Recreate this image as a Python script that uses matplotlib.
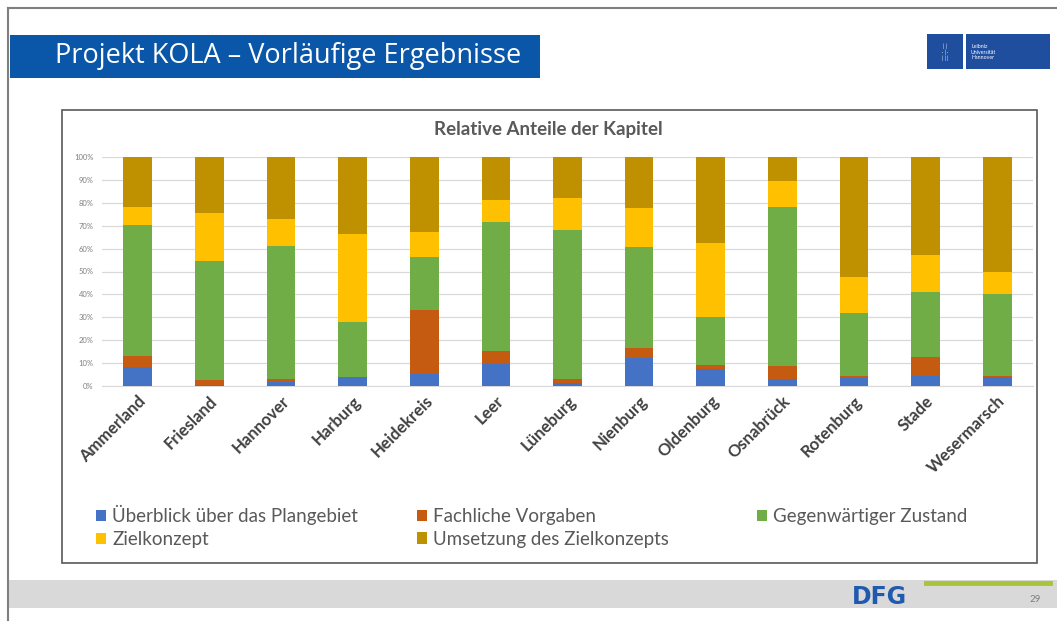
import numpy as np
import matplotlib.pyplot as plt
from matplotlib.patches import Rectangle
from matplotlib.lines import Line2D

plt.rcParams['font.family'] = ['Lato', 'DejaVu Sans']

kreise = ['Ammerland', 'Friesland', 'Hannover', 'Harburg', 'Heidekreis', 'Leer',
          'Lüneburg', 'Nienburg', 'Oldenburg', 'Osnabrück', 'Rotenburg', 'Stade',
          'Wesermarsch']

# shares per chapter (percent)
ueberblick = [8.5, 0.5, 1.9, 3.8, 5.1, 9.6, 1.5, 12.1, 7.3, 2.9, 3.4, 4.4, 3.8]
fachlich   = [4.6, 2.1, 1.0, 0.3, 28.1, 5.9, 1.4, 4.4, 1.7, 6.0, 0.8, 8.4, 0.6]
zustand    = [57.2, 52.1, 58.3, 23.9, 23.1, 56.2, 65.3, 44.0, 21.3, 69.2, 27.6, 28.2, 35.8]
zielkonz   = [7.8, 20.8, 11.7, 38.2, 10.8, 9.6, 13.9, 17.2, 32.1, 11.3, 15.7, 16.0, 9.5]
umsetzung  = [21.9, 24.5, 27.1, 33.8, 32.9, 18.7, 17.9, 22.3, 37.6, 10.6, 52.5, 43.0, 50.3]

series = [ueberblick, fachlich, zustand, zielkonz, umsetzung]
names = ['Überblick über das Plangebiet', 'Fachliche Vorgaben', 'Gegenwärtiger Zustand',
         'Zielkonzept', 'Umsetzung des Zielkonzepts']
colors = ['#4472C4', '#C55A11', '#70AD47', '#FFC000', '#BF9000']

W, H = 1057, 621
fig = plt.figure(figsize=(W / 100, H / 100), dpi=100)


def fx(x):
    return x / W


def fy(y):
    return 1 - y / H


# slide frame
fig.add_artist(Line2D([fx(8), fx(1057)], [fy(8), fy(8)], color='#7f7f7f', lw=1.5))
fig.add_artist(Line2D([fx(8), fx(8)], [fy(8), fy(621)], color='#7f7f7f', lw=1.5))

# title banner
fig.add_artist(Rectangle((fx(10), fy(78)), fx(530), 43 / H, color='#0A56A8', lw=0))
fig.text(fx(55), fy(56), 'Projekt KOLA – Vorläufige Ergebnisse', color='white',
         fontsize=19.5, va='center', ha='left', family=['Open Sans', 'DejaVu Sans'])

# university logo
fig.add_artist(Rectangle((fx(927), fy(69)), fx(36), 35 / H, color='#1F4E9E', lw=0))
fig.add_artist(Rectangle((fx(966), fy(69)), fx(84), 35 / H, color='#1F4E9E', lw=0))
fig.text(fx(945), fy(52), '| |\n· | ·\n| | |', color='white', fontsize=3.5, ha='center',
         va='center', linespacing=1.1)
fig.text(fx(971), fy(52), 'Leibniz\nUniversität\nHannover', color='white', fontsize=3.8,
         ha='left', va='center', linespacing=1.1)

# chart box
fig.add_artist(Rectangle((fx(62), fy(563)), fx(975), 453 / H, fill=False,
                         edgecolor='#595959', lw=1.2))

# footer
fig.add_artist(Rectangle((fx(9), fy(608)), fx(1048), 28 / H, color='#D9D9D9', lw=0))
fig.add_artist(Line2D([fx(926), fx(1050)], [fy(583), fy(583)], color='#A8C43C', lw=3.5))
fig.text(fx(879), fy(597), 'DFG', color='#1F5AAE', fontsize=17, fontweight='heavy',
         ha='center', va='center', family=['DejaVu Sans'])
fig.text(fx(1035), fy(600), '29', color='#7f7f7f', fontsize=7, ha='center', va='center')

# chart
ax = fig.add_axes([fx(102), fy(386), fx(1033 - 102), (386 - 157) / H])
x = np.arange(len(kreise))
bottom = np.zeros(len(kreise))
handles = []
for vals, name, col in zip(series, names, colors):
    v = np.array(vals) / 100
    b = ax.bar(x, v, 0.4, bottom=bottom, color=col, label=name, zorder=3)
    handles.append(b)
    bottom += v

ax.set_xlim(-0.5, len(kreise) - 0.5)
ax.set_ylim(0, 1)
ax.set_yticks(np.arange(0, 1.01, 0.1))
ax.set_yticklabels([f'{i}%' for i in range(0, 101, 10)], fontsize=5.5, color='#7f7f7f')
ax.yaxis.grid(True, color='#D9D9D9', lw=0.9, zorder=0)
for s in ax.spines.values():
    s.set_visible(False)
ax.spines['bottom'].set_visible(True)
ax.spines['bottom'].set_color('#D9D9D9')
ax.tick_params(length=0)
ax.set_xticks(x)
ax.set_xticklabels(kreise, rotation=45, ha='right', rotation_mode='anchor',
                   fontsize=12, fontweight='bold', color='#404040')
ax.tick_params(axis='x', pad=5)
ax.tick_params(axis='y', pad=6)

fig.text(fx(548), fy(130), 'Relative Anteile der Kapitel', fontsize=13.5,
         fontweight='bold', color='#595959', ha='center', va='center')

# legend: three columns filled row by row
cols = [[0, 3], [1, 4], [2]]
col_x = [83, 404, 744]
col_y = [492, 495, 495]
for idx, cx, cy in zip(cols, col_x, col_y):
    fig.legend([handles[i] for i in idx], [names[i] for i in idx], loc='upper left',
               bbox_to_anchor=(fx(cx), fy(cy)), frameon=False, fontsize=13.5,
               labelcolor='#595959', handlelength=0.55, handleheight=0.55,
               handletextpad=0.3, labelspacing=0.3, borderpad=0.2)

fig.savefig('out.png', dpi=100)
